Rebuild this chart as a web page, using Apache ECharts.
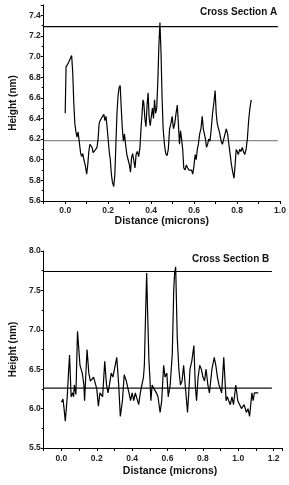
<!DOCTYPE html>
<html><head><meta charset="utf-8">
<script src="https://cdn.jsdelivr.net/npm/echarts@6/dist/echarts.min.js"></script>
<style>html,body{margin:0;padding:0;background:#fff}#c{width:289px;height:485px}</style>
</head><body><div id="c"></div>
<script>
// ---- Cross Section A ----
const distA = [0.000,0.004,0.010,0.017,0.024,0.030,0.035,0.040,0.045,0.050,0.055,0.060,0.064,0.068,0.072,0.077,0.082,0.087,0.093,0.100,0.105,0.110,0.115,0.120,0.125,0.130,0.136,0.142,0.148,0.153,0.158,0.163,0.168,0.174,0.180,0.185,0.190,0.195,0.200,0.205,0.210,0.215,0.220,0.226,0.231,0.236,0.241,0.246,0.251,0.256,0.261,0.266,0.271,0.276,0.281,0.287,0.293,0.299,0.304,0.309,0.314,0.319,0.325,0.330,0.336,0.342,0.348,0.353,0.358,0.362,0.366,0.371,0.376,0.381,0.386,0.391,0.396,0.401,0.406,0.411,0.416,0.421,0.426,0.431,0.436,0.441,0.446,0.451,0.456,0.462,0.468,0.474,0.480,0.486,0.492,0.498,0.504,0.510,0.516,0.522,0.527,0.532,0.537,0.542,0.547,0.552,0.558,0.564,0.570,0.576,0.582,0.588,0.594,0.600,0.605,0.610,0.615,0.620,0.626,0.632,0.638,0.643,0.648,0.653,0.658,0.663,0.668,0.674,0.680,0.686,0.692,0.698,0.703,0.708,0.714,0.720,0.726,0.732,0.738,0.744,0.750,0.756,0.762,0.768,0.774,0.780,0.786,0.791,0.796,0.801,0.806,0.812,0.818,0.824,0.830,0.836,0.842,0.848,0.854,0.860,0.866];
const heightA = [6.45,6.90,6.92,6.95,6.96,7.01,6.85,6.55,6.35,6.27,6.22,6.27,6.20,6.20,6.06,6.03,6.06,6.00,5.95,5.86,5.95,6.08,6.15,6.14,6.12,6.07,6.06,6.10,6.12,6.20,6.35,6.38,6.40,6.42,6.44,6.38,6.42,6.32,6.20,6.08,6.00,5.86,5.78,5.74,5.85,6.15,6.45,6.62,6.70,6.72,6.50,6.30,6.18,6.25,6.15,6.05,6.00,5.95,5.88,6.02,6.06,6.00,5.92,6.05,6.08,6.03,6.12,6.30,6.45,6.58,6.55,6.40,6.32,6.52,6.65,6.40,6.33,6.42,6.50,6.40,6.58,6.45,6.50,6.75,7.10,7.33,7.05,6.60,6.30,6.15,6.06,6.04,6.10,6.30,6.35,6.42,6.30,6.35,6.45,6.53,6.35,6.15,6.28,6.20,6.10,5.92,5.90,5.95,5.92,5.90,5.91,5.90,5.86,5.95,6.05,6.00,6.10,6.15,6.25,6.30,6.42,6.30,6.25,6.20,6.12,6.15,6.20,6.18,6.30,6.45,6.55,6.67,6.45,6.35,6.30,6.25,6.18,6.15,6.20,6.25,6.30,6.25,6.15,6.05,5.95,5.88,5.82,5.95,6.10,6.08,6.05,6.10,6.08,6.12,6.08,6.05,6.10,6.20,6.38,6.50,6.58];
const refLevelsA = [7.29, 6.185];
const refSpanA = [-0.1, 0.99];
const yTicksA = [5.6, 5.8, 6.0, 6.2, 6.4, 6.6, 6.8, 7.0, 7.2, 7.4];
const xTicksA = [0.0, 0.2, 0.4, 0.6, 0.8, 1.0];

// ---- Cross Section B ----
const distB = [0.000,0.009,0.015,0.022,0.033,0.040,0.046,0.055,0.064,0.069,0.073,0.082,0.091,0.105,0.118,0.127,0.131,0.145,0.155,0.164,0.182,0.191,0.200,0.209,0.218,0.233,0.245,0.255,0.264,0.282,0.291,0.300,0.313,0.324,0.333,0.345,0.355,0.367,0.382,0.391,0.400,0.409,0.418,0.437,0.446,0.464,0.469,0.477,0.482,0.487,0.495,0.500,0.506,0.513,0.524,0.537,0.546,0.549,0.558,0.567,0.578,0.586,0.596,0.604,0.615,0.627,0.635,0.640,0.646,0.655,0.664,0.673,0.682,0.691,0.700,0.713,0.720,0.727,0.737,0.749,0.757,0.764,0.773,0.782,0.791,0.800,0.809,0.818,0.828,0.837,0.851,0.864,0.873,0.882,0.891,0.906,0.918,0.931,0.938,0.946,0.955,0.964,0.973,0.986,0.997,1.008,1.018,1.033,1.046,1.055,1.064,1.069,1.077,1.084,1.091,1.100,1.113];
const heightB = [6.08,6.12,6.00,5.84,6.15,6.45,6.68,6.15,6.20,6.15,6.30,6.18,6.98,6.55,6.45,6.30,6.10,6.75,6.45,6.35,6.40,6.38,6.25,6.03,6.20,6.15,6.60,6.30,6.20,6.45,6.40,6.50,6.65,6.30,5.90,6.10,6.43,6.35,6.20,6.10,6.20,6.10,6.20,6.05,6.20,6.40,6.55,7.30,7.72,7.25,6.60,6.40,6.10,6.30,6.25,6.20,6.15,6.10,5.95,6.10,6.55,6.40,6.45,6.15,6.30,6.70,7.50,7.72,7.80,6.90,6.50,6.30,6.35,6.55,6.30,5.95,6.20,6.50,6.60,6.80,6.30,6.10,6.40,6.55,6.50,6.40,6.35,6.50,6.30,6.20,6.50,6.65,6.55,6.40,6.30,6.20,6.65,6.10,6.15,6.10,6.05,6.15,6.05,6.30,6.10,6.12,6.00,6.05,5.95,6.00,5.90,5.88,6.20,6.10,6.20,6.18,6.20];
const refLevelsB = [7.74, 6.26];
const refSpanB = [-0.1, 1.19];
const yTicksB = [5.5, 6.0, 6.5, 7.0, 7.5, 8.0];
const xTicksB = [0.0, 0.2, 0.4, 0.6, 0.8, 1.0, 1.2];

const FONT = '"Liberation Sans", Arial, sans-serif';
const zip = (xs, ys) => xs.map((x, i) => [x, ys[i]]);
const onList = (v, list) => list.some(t => Math.abs(t - v) < 1e-6);

function xAxis(gi, min, max, ticks, nameGap, namePad, margin) {
  return {
    type: 'value', gridIndex: gi, min: min, max: max, interval: 0.1,
    name: 'Distance (microns)', nameLocation: 'middle', nameGap: nameGap,
    nameTextStyle: { fontFamily: FONT, fontWeight: 'bold', fontSize: 10.5, color: '#111', padding: namePad },
    axisLine: { show: true, onZero: false, lineStyle: { color: '#000', width: 1 } },
    axisTick: { show: true, inside: false, length: 3, lineStyle: { color: '#000' } },
    axisLabel: { margin: margin, fontFamily: FONT, fontWeight: 'bold', fontSize: 8.5, color: '#222',
      formatter: v => onList(v, ticks) ? v.toFixed(1) : '' },
    splitLine: { show: false }
  };
}
function yAxis(gi, min, max, interval, ticks) {
  return {
    type: 'value', gridIndex: gi, min: min, max: max, interval: interval,
    name: 'Height (nm)', nameLocation: 'middle', nameGap: 24, nameRotate: 90,
    nameTextStyle: { fontFamily: FONT, fontWeight: 'bold', fontSize: 10, color: '#111' },
    axisLine: { show: true, onZero: false, lineStyle: { color: '#000', width: 1 } },
    axisTick: { show: true, inside: false, length: 3, lineStyle: { color: '#000' } },
    minorTick: { show: true, splitNumber: 2, length: 2, lineStyle: { color: '#000' } },
    axisLabel: { margin: 3, fontFamily: FONT, fontWeight: 'bold', fontSize: 8.5, color: '#222',
      formatter: v => onList(v, ticks) ? v.toFixed(1) : '' },
    splitLine: { show: false }
  };
}
function refLine(xi, yi, level, span, color) {
  return { type: 'line', xAxisIndex: xi, yAxisIndex: yi, silent: true, symbol: 'none',
    data: [[span[0], level], [span[1], level]], lineStyle: { color: color, width: 1.1 }, z: 1 };
}

const chart = echarts.init(document.getElementById('c'), null, { renderer: 'canvas' });
chart.setOption({
  animation: false,
  backgroundColor: '#fff',
  title: [
    { text: 'Cross Section A', left: 195, top: 2, textStyle: { fontFamily: FONT, fontWeight: 'bold', fontSize: 10, color: '#111' } },
    { text: 'Cross Section B', left: 187, top: 249, textStyle: { fontFamily: FONT, fontWeight: 'bold', fontSize: 10, color: '#111' } }
  ],
  grid: [
    { left: 33, top: 5, width: 247, height: 196 },
    { left: 35, top: 251, width: 247.5, height: 197 }
  ],
  xAxis: [ xAxis(0, -0.1, 1.0, xTicksA, 14, [0,0,0,0], 5), xAxis(1, -0.1, 1.25, xTicksB, 18, [0,0,0,14], 6) ],
  yAxis: [ yAxis(0, 5.6, 7.5, 0.2, yTicksA), yAxis(1, 5.5, 8.0, 0.5, yTicksB) ],
  series: [
    refLine(0, 0, refLevelsA[0], refSpanA, '#000'),
    refLine(0, 0, refLevelsA[1], refSpanA, '#8c8c8c'),
    { type: 'line', xAxisIndex: 0, yAxisIndex: 0, symbol: 'none', data: zip(distA, heightA),
      lineStyle: { color: '#000', width: 1.2 }, z: 2 },
    refLine(1, 1, refLevelsB[0], refSpanB, '#000'),
    refLine(1, 1, refLevelsB[1], refSpanB, '#111'),
    { type: 'line', xAxisIndex: 1, yAxisIndex: 1, symbol: 'none', data: zip(distB, heightB),
      lineStyle: { color: '#000', width: 1.2 }, z: 2 }
  ]
});
</script>
</body></html>
